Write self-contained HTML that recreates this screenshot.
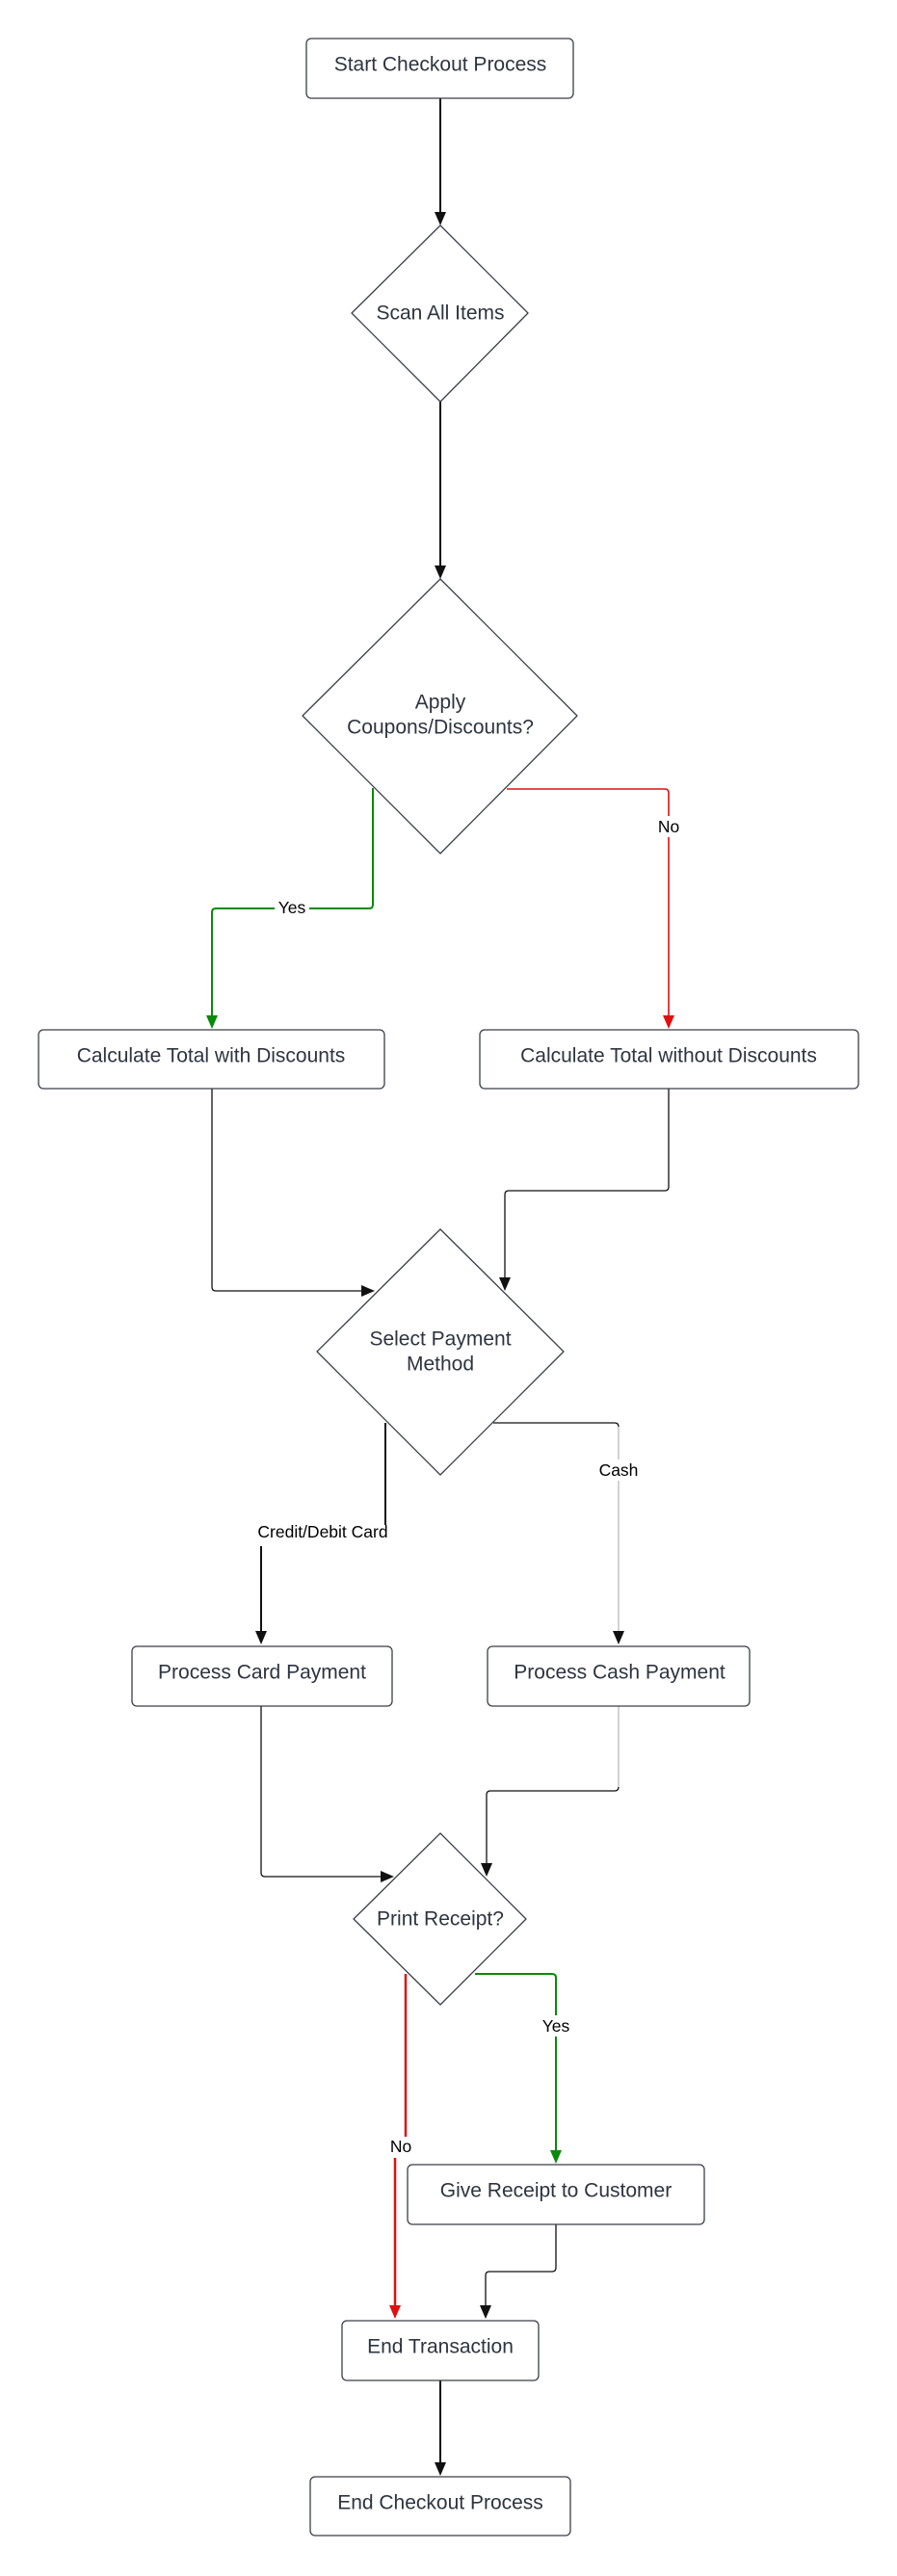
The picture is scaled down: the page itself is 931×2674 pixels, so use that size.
<!DOCTYPE html>
<html><head><meta charset="utf-8"><style>
html,body{margin:0;padding:0;background:#fff;}
svg{display:block;}
.n{fill:#fff;stroke:#3a3f48;stroke-width:1.3;}
.t{font-family:"Liberation Sans",Arial,sans-serif;font-size:21px;fill:#2e3440;text-anchor:middle;dominant-baseline:central;}
.l{font-family:"Liberation Sans",Arial,sans-serif;font-size:17.5px;fill:#000;text-anchor:middle;dominant-baseline:central;}
.k{fill:none;stroke:#111;stroke-width:2;}
.k1{fill:none;stroke:#111;stroke-width:1.3;}
</style></head><body>
<svg width="931" height="2674" viewBox="0 0 931 2674" xmlns="http://www.w3.org/2000/svg">
<rect width="931" height="2674" fill="#fff"/>
<path class="k" d="M457 102 V222"/><polygon points="451,220 463,220 457,234" fill="#111"/>
<path class="k" d="M457 417 V589"/><polygon points="451,587 463,587 457,601" fill="#111"/>
<path d="M387 818 V939 Q387 943 383 943 H224 Q220 943 220 947 V1056" fill="none" stroke="#0a8a0a" stroke-width="2"/>
<polygon points="214,1054 226,1054 220,1068" fill="#0a8a0a"/>
<rect x="285" y="932" width="36" height="22" fill="#fff"/><text class="l" x="303" y="942">Yes</text>
<path d="M526 819 H690 Q694 819 694 823 V1056" fill="none" stroke="#e01010" stroke-width="1.6"/>
<polygon points="688,1054 700,1054 694,1068" fill="#e01010"/>
<rect x="679" y="847" width="30" height="22" fill="#fff"/><text class="l" x="694" y="858">No</text>
<path class="k1" d="M220 1130 V1336 Q220 1340 224 1340 H377"/><polygon points="375,1334 375,1346 389,1340" fill="#111"/>
<path class="k1" d="M694 1130 V1232 Q694 1236 690 1236 H528 Q524 1236 524 1240 V1328"/><polygon points="518,1326 530,1326 524,1340" fill="#111"/>
<path class="k" d="M400 1477 V1583"/>
<text class="l" x="335" y="1590">Credit/Debit Card</text>
<path class="k" d="M271 1605 V1695"/><polygon points="265,1693 277,1693 271,1707" fill="#111"/>
<path class="k1" d="M512 1477 H638 Q642 1477 642 1481"/>
<path d="M642 1481 V1695" fill="none" stroke="#bbb" stroke-width="1.3"/>
<polygon points="636,1693 648,1693 642,1707" fill="#111"/>
<rect x="618" y="1515" width="48" height="22" fill="#fff"/><text class="l" x="642" y="1526">Cash</text>
<path class="k1" d="M271 1771 V1944 Q271 1948 275 1948 H397"/><polygon points="395,1942 395,1954 409,1948" fill="#111"/>
<path d="M642 1771 V1855" fill="none" stroke="#bbb" stroke-width="1.3"/>
<path class="k1" d="M642 1855 Q642 1859 638 1859 H509 Q505 1859 505 1863 V1936"/><polygon points="499,1934 511,1934 505,1948" fill="#111"/>
<path d="M421 2049 V2218" fill="none" stroke="#e01010" stroke-width="2.5"/>
<text class="l" x="416" y="2228">No</text>
<path d="M410 2240 V2395" fill="none" stroke="#e01010" stroke-width="2.5"/>
<polygon points="404,2393 416,2393 410,2407" fill="#e01010"/>
<path d="M493 2049 H573 Q577 2049 577 2053 V2234" fill="none" stroke="#0a8a0a" stroke-width="2"/>
<polygon points="571,2232 583,2232 577,2246" fill="#0a8a0a"/>
<rect x="558" y="2092" width="38" height="22" fill="#fff"/><text class="l" x="577" y="2103">Yes</text>
<path class="k1" d="M577 2309 V2354 Q577 2358 573 2358 H508 Q504 2358 504 2362 V2395"/><polygon points="498,2393 510,2393 504,2407" fill="#111"/>
<path class="k" d="M457 2471 V2558"/><polygon points="451,2556 463,2556 457,2570" fill="#111"/>
<rect class="n" x="318" y="40" width="277" height="62" rx="5"/><text class="t" x="457" y="67">Start Checkout Process</text>
<path class="n" d="M457 234 L548 325 L457 417 L365 325 Z" stroke-linejoin="round"/><text class="t" x="457" y="325">Scan All Items</text>
<path class="n" d="M457 601 L599 743 L457 886 L314 743 Z" stroke-linejoin="round"/>
<text class="t" x="457" y="729">Apply</text><text class="t" x="457" y="755">Coupons/Discounts?</text>
<rect class="n" x="40" y="1069" width="359" height="61" rx="5"/><text class="t" x="219" y="1096">Calculate Total with Discounts</text>
<rect class="n" x="498" y="1069" width="393" height="61" rx="5"/><text class="t" x="694" y="1096">Calculate Total without Discounts</text>
<path class="n" d="M457 1276 L585 1403 L457 1531 L329 1403 Z" stroke-linejoin="round"/>
<text class="t" x="457" y="1390">Select Payment</text><text class="t" x="457" y="1416">Method</text>
<rect class="n" x="137" y="1709" width="270" height="62" rx="5"/><text class="t" x="272" y="1736">Process Card Payment</text>
<rect class="n" x="506" y="1709" width="272" height="62" rx="5"/><text class="t" x="643" y="1736">Process Cash Payment</text>
<path class="n" d="M457 1903 L546 1992 L457 2081 L367 1992 Z" stroke-linejoin="round"/><text class="t" x="457" y="1992">Print Receipt?</text>
<rect class="n" x="423" y="2247" width="308" height="62" rx="5"/><text class="t" x="577" y="2274">Give Receipt to Customer</text>
<rect class="n" x="355" y="2409" width="204" height="62" rx="5"/><text class="t" x="457" y="2436">End Transaction</text>
<rect class="n" x="322" y="2571" width="270" height="61" rx="5"/><text class="t" x="457" y="2598">End Checkout Process</text>
</svg>
</body></html>
